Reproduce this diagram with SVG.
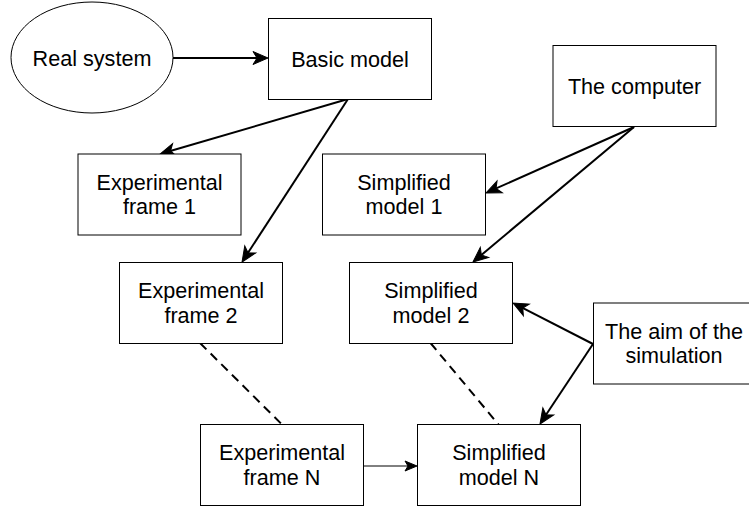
<svg xmlns="http://www.w3.org/2000/svg" width="749" height="506" viewBox="0 0 749 506">
<style>
.box{fill:#fff;stroke:#000;stroke-width:1}
.t{font-family:"Liberation Sans",Arial,sans-serif;font-size:21.6px;fill:#000;text-anchor:middle}
.c{fill:none;stroke:#000;stroke-width:2}
.thin{fill:none;stroke:#000;stroke-width:1}
.d{fill:none;stroke:#000;stroke-width:2;stroke-dasharray:9 6}
</style>
<defs>
<marker id="a" markerUnits="userSpaceOnUse" markerWidth="30" markerHeight="30" viewBox="-15 -15 30 30" refX="0" refY="0" orient="auto" overflow="visible">
<path d="M8,0 L-7,-6.5 L-3,0 L-7,6.5 Z" fill="#000" stroke="#000" stroke-width="1"/>
</marker>
<marker id="s" markerUnits="userSpaceOnUse" markerWidth="30" markerHeight="30" viewBox="-15 -15 30 30" refX="0" refY="0" orient="auto" overflow="visible">
<path d="M5,0 L-7,-5 L-4,0 L-7,5 Z" fill="#000" stroke="#000" stroke-width="1"/>
</marker>
</defs>
<rect width="749" height="506" fill="#fff"/>
<g id="connectors">
<path class="c" d="M173,58 L260,58" marker-end="url(#a)"/>
<path class="c" d="M348,99 L167.7,151.8" marker-end="url(#a)"/>
<path class="c" d="M348,99 L246.4,255.3" marker-end="url(#a)"/>
<path class="c" d="M634,127 L493.3,189.7" marker-end="url(#a)"/>
<path class="c" d="M634,127 L479.1,256.9" marker-end="url(#a)"/>
<path class="c" d="M593,344 L520.1,306.7" marker-end="url(#a)"/>
<path class="c" d="M593,344 L544.4,417.3" marker-end="url(#a)"/>
<path class="thin" d="M363.5,466 L412,466" marker-end="url(#s)"/>
<path class="d" d="M200,343 L282,424.5"/>
<path class="d" d="M430.5,343 L498.5,424.5"/>
</g>
<g id="real-system">
<ellipse class="box" cx="92" cy="57.5" rx="81" ry="55.5"/>
<text class="t" x="92" y="65.5">Real system</text>
</g>
<g id="basic-model">
<rect class="box" x="268.5" y="18.5" width="163" height="81"/>
<text class="t" x="350" y="66.5">Basic model</text>
</g>
<g id="computer">
<rect class="box" x="553" y="45.5" width="163" height="81"/>
<text class="t" x="634.5" y="93.5">The computer</text>
</g>
<g id="exp-frame-1">
<rect class="box" x="78" y="154" width="163" height="81"/>
<text class="t" x="159.5" y="189.5">Experimental</text>
<text class="t" x="159.5" y="214">frame 1</text>
</g>
<g id="sim-model-1">
<rect class="box" x="322.5" y="154" width="163" height="81"/>
<text class="t" x="404" y="189.5">Simplified</text>
<text class="t" x="404" y="214">model 1</text>
</g>
<g id="exp-frame-2">
<rect class="box" x="119.5" y="262.5" width="163" height="81"/>
<text class="t" x="201" y="298">Experimental</text>
<text class="t" x="201" y="322.5">frame 2</text>
</g>
<g id="sim-model-2">
<rect class="box" x="349.5" y="262.5" width="163" height="81"/>
<text class="t" x="431" y="298">Simplified</text>
<text class="t" x="431" y="322.5">model 2</text>
</g>
<g id="aim">
<rect class="box" x="593.5" y="303" width="163" height="81"/>
<text class="t" x="674" y="338.5">The aim of the</text>
<text class="t" x="674" y="363">simulation</text>
</g>
<g id="exp-frame-n">
<rect class="box" x="200.5" y="424.5" width="163" height="81"/>
<text class="t" x="282" y="460">Experimental</text>
<text class="t" x="282" y="484.5">frame N</text>
</g>
<g id="sim-model-n">
<rect class="box" x="417.5" y="424.5" width="163" height="81"/>
<text class="t" x="499" y="460">Simplified</text>
<text class="t" x="499" y="484.5">model N</text>
</g>
</svg>
